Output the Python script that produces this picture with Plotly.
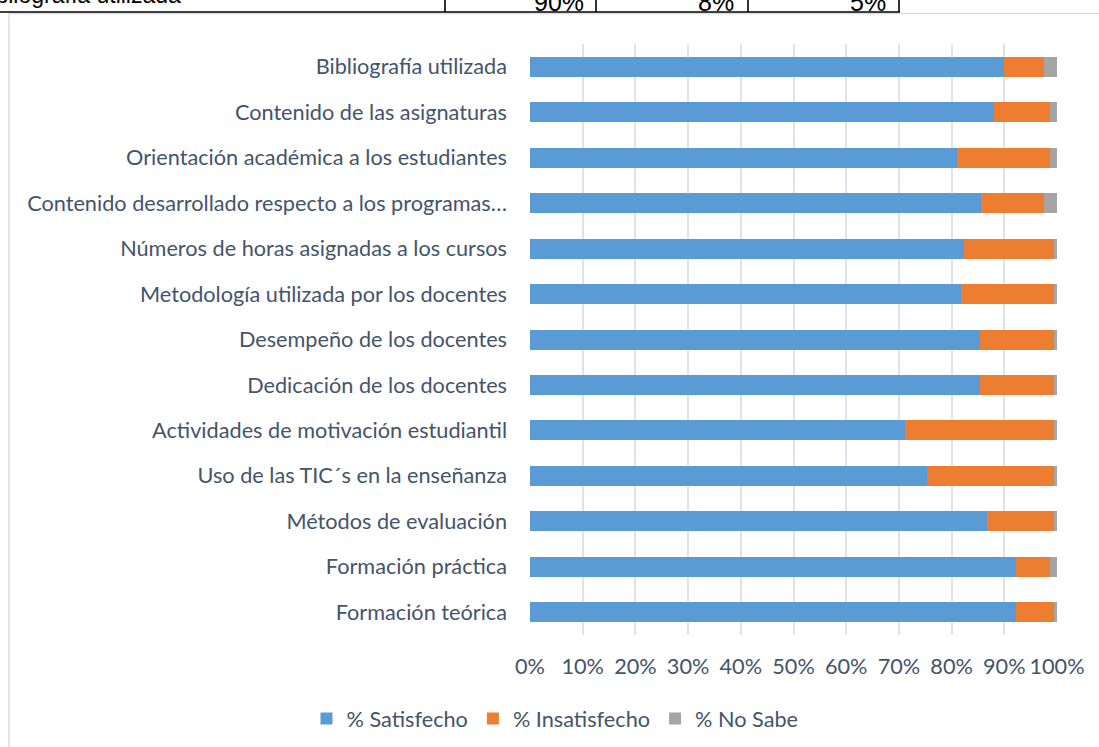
import plotly.graph_objects as go

# Survey items, listed top to bottom
categories = [
    "Bibliografía utilizada",
    "Contenido de las asignaturas",
    "Orientación académica a los estudiantes",
    "Contenido desarrollado respecto a los programas…",
    "Números de horas asignadas a los cursos",
    "Metodología utilizada por los docentes",
    "Desempeño de los docentes",
    "Dedicación de los docentes",
    "Actividades de motivación estudiantil",
    "Uso de las TIC´s en la enseñanza",
    "Métodos de evaluación",
    "Formación práctica",
    "Formación teórica",
]

# Share of responses (%) per item
satisfecho = [90.0, 88.0, 81.0, 85.5, 82.4, 81.7, 85.4, 85.4, 71.1, 75.4, 86.8, 92.3, 92.3]
insatisfecho = [7.5, 10.6, 17.6, 12.0, 17.0, 17.7, 14.0, 14.0, 28.3, 24.0, 12.6, 6.3, 7.1]
no_sabe = [2.5, 1.4, 1.4, 2.5, 0.6, 0.6, 0.6, 0.6, 0.6, 0.6, 0.6, 1.4, 0.6]

series_names = ["% Satisfecho", "% Insatisfecho", "% No Sabe"]
series_colors = ["#5b9bd5", "#ed7d31", "#a5a5a5"]

x_ticks = [0, 10, 20, 30, 40, 50, 60, 70, 80, 90, 100]
x_tick_text = [f"{t}%" for t in x_ticks]

# Row of the source table shown above the chart
table_row = ["Bibliografía utilizada", "90%", "8%", "5%"]

W, H = 1099, 747
ML, MR, MT, MB = 530, 42, 44, 112
PW, PH = W - ML - MR, H - MT - MB


def px(x):
    return (x - ML) / PW


def py(y):
    return (H - MB - y) / PH


TEXT = "#44546a"
FONT = "Lato"
FS = 21.7

fig = go.Figure()
for name, vals, col in zip(series_names, [satisfecho, insatisfecho, no_sabe], series_colors):
    fig.add_trace(go.Bar(
        y=categories,
        x=vals,
        name=name,
        orientation="h",
        marker=dict(color=col, line=dict(width=0)),
        hoverinfo="x+y+name",
    ))

shapes = []
# chart frame
shapes.append(dict(type="rect", xref="paper", yref="paper",
                   x0=px(9), x1=px(1110), y0=py(760), y1=py(13.5),
                   line=dict(color="#d9dde3", width=1.5), fillcolor="rgba(0,0,0,0)",
                   layer="below"))
# table lines
shapes.append(dict(type="line", xref="paper", yref="paper",
                   x0=px(0), x1=px(900), y0=py(12), y1=py(12),
                   line=dict(color="#000000", width=1.6)))
for vx in [445, 596, 748, 899]:
    shapes.append(dict(type="line", xref="paper", yref="paper",
                       x0=px(vx), x1=px(vx), y0=py(-5), y1=py(12),
                       line=dict(color="#000000", width=1.6)))

annotations = []
annotations.append(dict(text=table_row[0], xref="paper", yref="paper",
                        x=px(-27), y=py(10), xanchor="left", yanchor="bottom",
                        showarrow=False, font=dict(family="Liberation Sans", size=23, color="#000000")))
for txt, rx in zip(table_row[1:], [586, 736, 888]):
    annotations.append(dict(text=txt, xref="paper", yref="paper",
                            x=px(rx), y=py(18), xanchor="right", yanchor="bottom",
                            showarrow=False, font=dict(family="Liberation Sans", size=25, color="#000000")))

fig.update_layout(
    width=W, height=H,
    margin=dict(l=ML, r=MR, t=MT, b=MB, autoexpand=False),
    paper_bgcolor="white", plot_bgcolor="white",
    barmode="stack",
    bargap=0.56,
    font=dict(family=FONT, size=FS, color=TEXT),
    xaxis=dict(
        range=[0, 100], tickvals=x_ticks, ticktext=x_tick_text,
        showgrid=True, gridcolor="#dfe4ea", gridwidth=1.5,
        zeroline=False, showline=False, ticks="",
        ticklabelstandoff=16,
        tickfont=dict(family=FONT, size=FS, color=TEXT),
        automargin=False,
        fixedrange=True,
    ),
    yaxis=dict(
        type="category", autorange="reversed",
        showgrid=False, zeroline=False, showline=False, ticks="",
        ticklabelstandoff=22,
        tickfont=dict(family=FONT, size=FS, color=TEXT),
        automargin=False,
        fixedrange=True,
    ),
    legend=dict(
        orientation="h", traceorder="normal",
        x=px(555), xanchor="center", y=py(719), yanchor="middle",
        font=dict(family=FONT, size=FS, color=TEXT),
        bgcolor="rgba(0,0,0,0)",
        itemwidth=30,
    ),
    shapes=shapes,
    annotations=annotations,
)

fig.write_html("out.html")
